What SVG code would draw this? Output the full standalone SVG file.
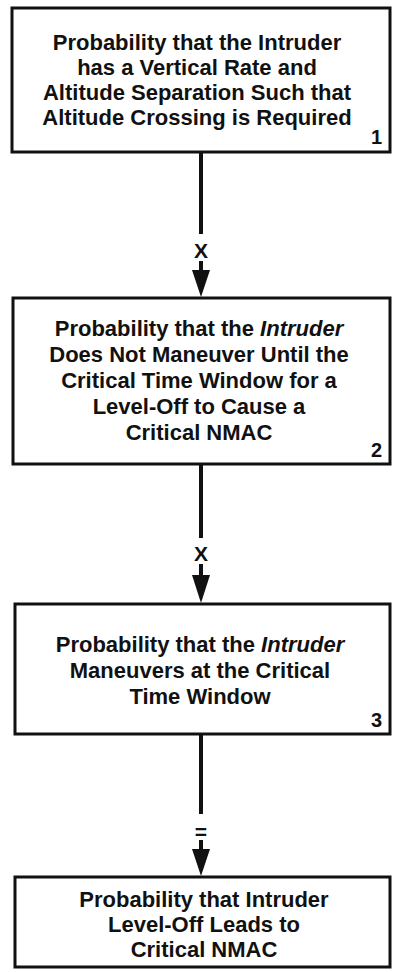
<svg xmlns="http://www.w3.org/2000/svg" width="394" height="972" viewBox="0 0 394 972">
<style>
.box{fill:#fff;stroke:#111;stroke-width:3}
.t{font-family:"Liberation Sans",Arial,sans-serif;font-weight:bold;font-size:22px;fill:#111;text-anchor:middle}
.n{font-family:"Liberation Sans",Arial,sans-serif;font-weight:bold;font-size:20px;fill:#111;text-anchor:end}
.c{stroke:#111;stroke-width:4;fill:none}
.h{fill:#111}
.op{font-family:"Liberation Sans",Arial,sans-serif;font-weight:bold;font-size:21px;fill:#111;text-anchor:middle}
</style>
<rect width="394" height="972" fill="#fff"/>
<g id="connectors">
<line class="c" x1="201" y1="152" x2="201" y2="234"/>
<text class="op" x="201" y="258">X</text>
<line class="c" x1="201" y1="261" x2="201" y2="274"/>
<polygon class="h" points="192,270 210,270 201,297"/>
<line class="c" x1="201" y1="464" x2="201" y2="538"/>
<text class="op" x="201" y="561">X</text>
<line class="c" x1="201" y1="564" x2="201" y2="578"/>
<polygon class="h" points="192,575 210,575 201,603"/>
<line class="c" x1="201" y1="734" x2="201" y2="814"/>
<text class="op" x="201" y="839">=</text>
<line class="c" x1="201" y1="840" x2="201" y2="852"/>
<polygon class="h" points="192,849 210,849 201,876"/>
</g>
<g id="node1">
<rect class="box" x="12" y="8" width="378" height="144"/>
<text class="t" x="197" y="50">Probability that the Intruder</text>
<text class="t" x="197" y="75">has a Vertical Rate and</text>
<text class="t" x="197" y="100">Altitude Separation Such that</text>
<text class="t" x="197" y="125">Altitude Crossing is Required</text>
<text class="n" x="382" y="144">1</text>
</g>
<g id="node2">
<rect class="box" x="13" y="298" width="377" height="166"/>
<text class="t" x="199" y="336">Probability that the <tspan font-style="italic">Intruder</tspan></text>
<text class="t" x="199" y="362">Does Not Maneuver Until the</text>
<text class="t" x="199" y="388">Critical Time Window for a</text>
<text class="t" x="199" y="414">Level-Off to Cause a</text>
<text class="t" x="199" y="440">Critical NMAC</text>
<text class="n" x="382" y="457">2</text>
</g>
<g id="node3">
<rect class="box" x="15" y="604" width="375" height="130"/>
<text class="t" x="200" y="652">Probability that the <tspan font-style="italic">Intruder</tspan></text>
<text class="t" x="200" y="678">Maneuvers at the Critical</text>
<text class="t" x="200" y="704">Time Window</text>
<text class="n" x="382" y="727">3</text>
</g>
<g id="node4">
<rect class="box" x="15" y="877" width="375" height="90"/>
<text class="t" x="204" y="907">Probability that Intruder</text>
<text class="t" x="204" y="932">Level-Off Leads to</text>
<text class="t" x="204" y="957">Critical NMAC</text>
</g>
</svg>
